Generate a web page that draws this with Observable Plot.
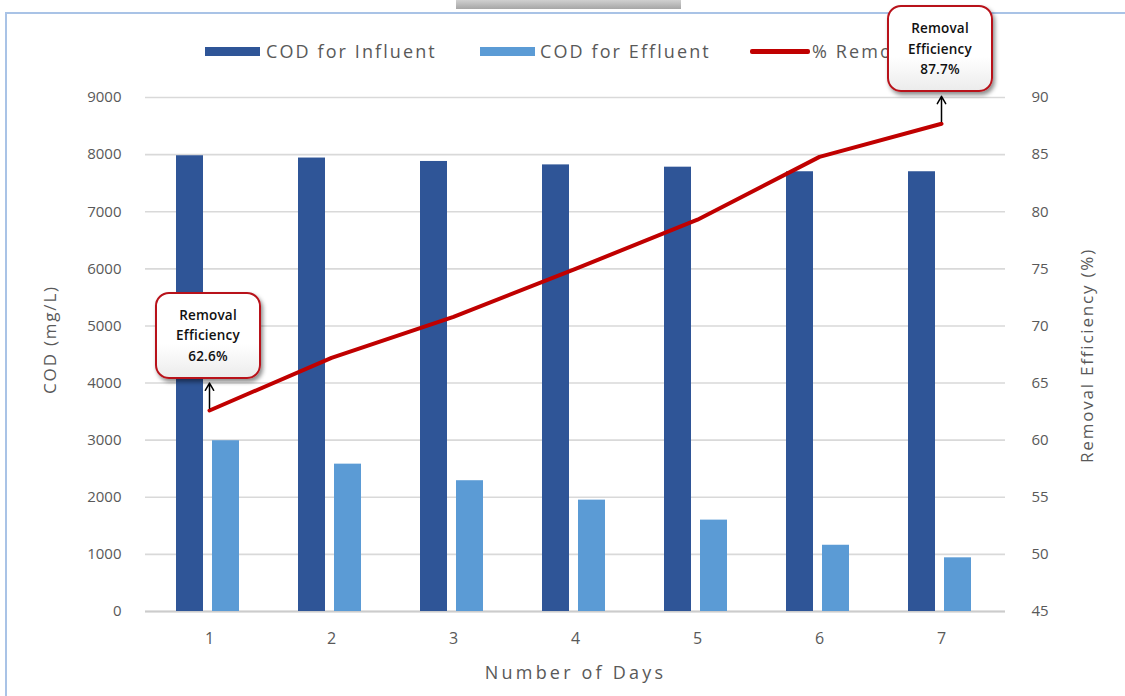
<!DOCTYPE html>
<html>
<head>
<meta charset="utf-8">
<script src="https://cdn.jsdelivr.net/npm/d3@7"></script>
<script src="https://cdn.jsdelivr.net/npm/@observablehq/plot@0.6"></script>
<style>
  body { margin: 0; background: #fff; }
  #wrap { position: relative; width: 1125px; height: 696px; overflow: hidden; background: #fff; font-family: "Open Sans", sans-serif; }
  #wrap svg { position: absolute; left: 0; top: 0; }
  .frame { position: absolute; left: 5px; top: 12px; width: 1130px; height: 700px; border-left: 2px solid #a9c3e6; border-top: 2px solid #a9c3e6; box-sizing: border-box; }
  .tab { position: absolute; left: 456px; top: 0; width: 225px; height: 9px; background: linear-gradient(#d0d0d0, #a6a6a6); }
  .sw { position: absolute; }
  .lt { position: absolute; top: 38px; height: 26px; line-height: 26px; font-size: 18px; letter-spacing: 2.1px; color: #595959; white-space: nowrap; overflow: hidden; }
  .box { position: absolute; width: 106px; height: 87px; box-sizing: border-box; border: 2.5px solid #b8121a; border-radius: 14px;
         background: linear-gradient(#ffffff 60%, #ececec); box-shadow: 2px 3px 4px rgba(0,0,0,0.45);
         display: flex; flex-direction: column; align-items: center; justify-content: center;
         font-size: 13.5px; font-weight: 600; line-height: 20.5px; color: #111; letter-spacing: 0.2px; z-index: 5; }
</style>
</head>
<body>
<div id="wrap">
  <div class="frame"></div>
  <div class="tab"></div>
</div>
<script>
// ---- data ----
const days = ["1", "2", "3", "4", "5", "6", "7"];
const codInfluent = [7980, 7940, 7880, 7820, 7780, 7700, 7700];
const codEffluent = [2990, 2580, 2290, 1950, 1600, 1160, 940];
const removalEfficiency = [62.6, 67.2, 70.8, 75.0, 79.3, 84.8, 87.7];
const leftTicks = [0, 1000, 2000, 3000, 4000, 5000, 6000, 7000, 8000, 9000];
const rightTicks = [45, 50, 55, 60, 65, 70, 75, 80, 85, 90];
const annotatedDays = ["1", "7"];
const seriesNames = ["COD for Influent", "COD for Effluent", "% Removal Efficiency"];
const seriesColors = ["#2f5597", "#5b9bd5", "#c00000"];

// map right-axis values onto the left (COD) scale
const r0 = rightTicks[0], r1 = rightTicks[rightTicks.length - 1];
const l0 = leftTicks[0], l1 = leftTicks[leftTicks.length - 1];
const toLeft = v => (v - r0) / (r1 - r0) * (l1 - l0) + l0;
const fromLeft = v => (v - l0) / (l1 - l0) * (r1 - r0) + r0;

const table = days.map((d, i) => ({day: d, influent: codInfluent[i], effluent: codEffluent[i], eff: removalEfficiency[i]}));
const annot = table.filter(d => annotatedDays.includes(d.day));
const arrowLen = 480; // in COD units (styling offset)

const plot = Plot.plot({
  width: 1125,
  height: 696,
  marginLeft: 145,
  marginRight: 120,
  marginTop: 97,
  marginBottom: 85,
  style: {fontFamily: "'Open Sans', sans-serif", fontSize: "15px", color: "#595959", background: "transparent", overflow: "visible"},
  x: {type: "band", domain: days, padding: 0, label: null},
  y: {domain: [l0, l1], label: null},
  marks: [
    Plot.gridY(leftTicks, {stroke: "#d9d9d9", strokeOpacity: 1, strokeWidth: 1.6}),
    Plot.ruleY([0], {stroke: "#cccccc", strokeWidth: 2}),
    Plot.barY(table, {x: "day", y: "influent", fill: seriesColors[0], insetLeft: 28, insetRight: 67}),
    Plot.barY(table, {x: "day", y: "effluent", fill: seriesColors[1], insetLeft: 64, insetRight: 31}),
    Plot.line(table, {x: "day", y: d => toLeft(d.eff), stroke: seriesColors[2], strokeWidth: 4, strokeLinejoin: "round", strokeLinecap: "round"}),
    Plot.arrow(annot, {x: "day", y1: d => toLeft(d.eff) + 40, y2: d => toLeft(d.eff) + arrowLen, stroke: "#000", strokeWidth: 1.5, headLength: 9}),
    Plot.axisY(leftTicks, {anchor: "left", tickSize: 0, tickPadding: 24, fontSize: 15, tickFormat: d => String(d), label: null}),
    Plot.axisY(rightTicks.map(toLeft), {anchor: "right", tickSize: 0, tickPadding: 26, fontSize: 15, tickFormat: d => String(Math.round(fromLeft(d))), label: null}),
    Plot.axisX({tickSize: 0, tickPadding: 21, fontSize: 16, label: null}),
    Plot.text(["COD (mg/L)"], {frameAnchor: "left", textAnchor: "middle", rotate: -90, dx: -95, dy: -15, fontSize: 17, fill: "#595959"}),
    Plot.text(["Removal Efficiency (%)"], {frameAnchor: "right", textAnchor: "middle", rotate: -90, dx: 82, dy: 1, fontSize: 17, fill: "#595959"}),
    Plot.text(["Number of Days"], {frameAnchor: "bottom", dy: 67, fontSize: 18, fill: "#595959"})
  ]
});
plot.querySelectorAll("text").forEach(t => {
  const txt = t.textContent;
  if (txt === "COD (mg/L)" || txt === "Removal Efficiency (%)") t.setAttribute("letter-spacing", "1.8");
  if (txt === "Number of Days") t.setAttribute("letter-spacing", "3.2");
});

const wrap = document.getElementById("wrap");
wrap.appendChild(plot);

// legend (the last entry is cut off by the annotation box, as in the reference)
const legendLayout = [
  {sw: [205, 47, 55, 9], tx: 266, w: 200},
  {sw: [480, 47, 55, 9], tx: 540, w: 200},
  {sw: [750, 49, 60, 4.5], tx: 812, w: 76}
];
seriesNames.forEach((name, i) => {
  const L = legendLayout[i];
  const s = document.createElement("div");
  s.className = "sw";
  Object.assign(s.style, {left: L.sw[0] + "px", top: L.sw[1] + "px", width: L.sw[2] + "px", height: L.sw[3] + "px", background: seriesColors[i], borderRadius: i === 2 ? "2px" : "0"});
  wrap.appendChild(s);
  const t = document.createElement("div");
  t.className = "lt";
  t.style.left = L.tx + "px";
  t.style.width = L.w + "px";
  t.textContent = name;
  wrap.appendChild(t);
});

// annotation boxes
const sx = plot.scale("x"), sy = plot.scale("y");
annot.forEach(d => {
  const cx = sx.apply(d.day) + sx.bandwidth / 2;
  const py = sy.apply(toLeft(d.eff));
  const b = document.createElement("div");
  b.className = "box";
  b.style.left = (cx - 54) + "px";
  b.style.top = (py - 32 - 86) + "px";
  b.innerHTML = `<div>Removal</div><div>Efficiency</div><div>${d.eff.toFixed(1)}%</div>`;
  wrap.appendChild(b);
});
</script>
</body>
</html>
